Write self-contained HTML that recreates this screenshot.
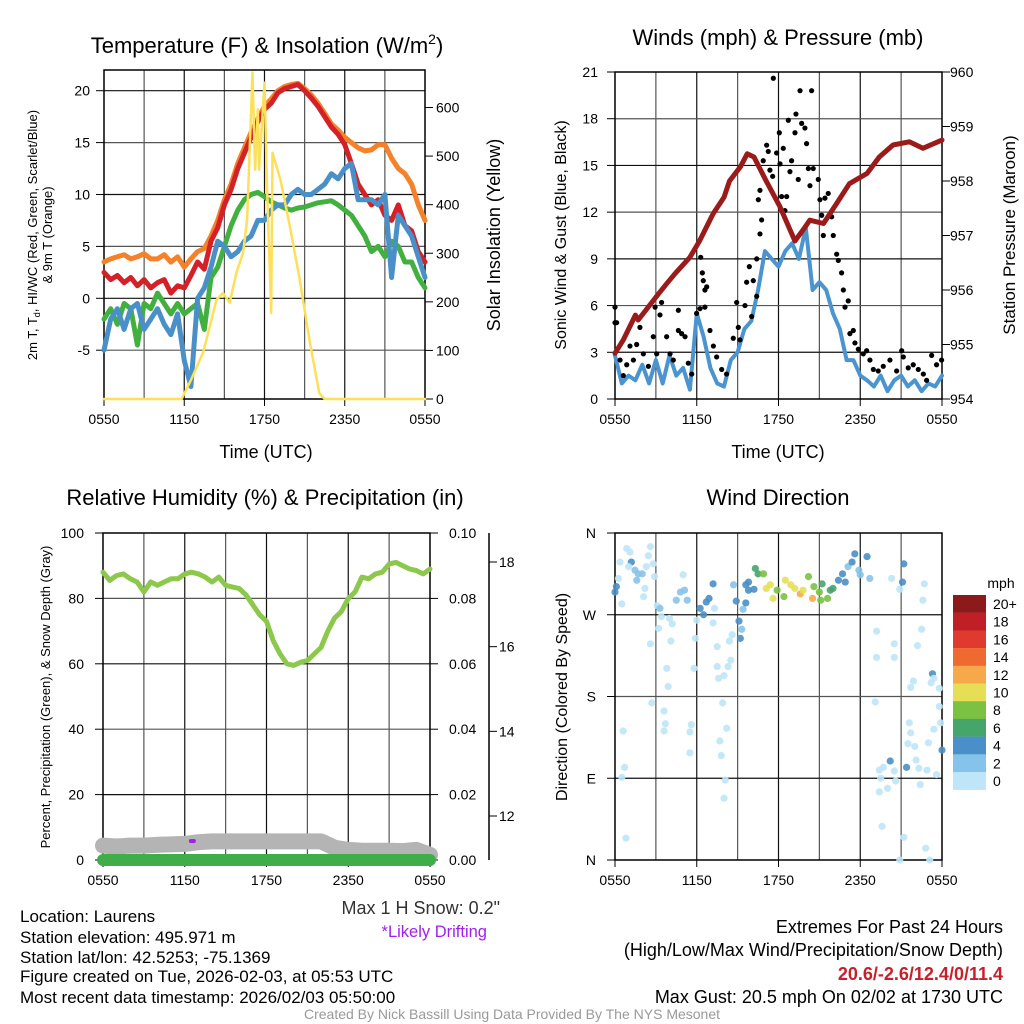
<!DOCTYPE html>
<html><head><meta charset="utf-8"><style>
html,body{margin:0;padding:0;background:#fff;}
svg{display:block;font-family:"Liberation Sans",sans-serif;}
</style></head><body>
<svg id="fig" xmlns="http://www.w3.org/2000/svg" width="1024" height="1024" viewBox="0 0 1024 1024">
<rect width="1024" height="1024" fill="#fff"/>
<g font-size="17" fill="#000">
<text x="20" y="922">Location: Laurens</text>
<text x="20" y="943">Station elevation: 495.971 m</text>
<text x="20" y="963">Station lat/lon: 42.5253; -75.1369</text>
<text x="20" y="982">Figure created on Tue, 2026-02-03, at 05:53 UTC</text>
<text x="20" y="1003">Most recent data timestamp: 2026/02/03 05:50:00</text>
<text x="500" y="914" text-anchor="end" fill="#333" font-size="18">Max 1 H Snow: 0.2"</text>
<text x="487" y="937" text-anchor="end" fill="#a020f0" font-size="16.5">*Likely Drifting</text>
<g font-size="18">
<text x="1003" y="933" text-anchor="end">Extremes For Past 24 Hours</text>
<text x="1003" y="956" text-anchor="end">(High/Low/Max Wind/Precipitation/Snow Depth)</text>
<text x="1003" y="980" text-anchor="end" fill="#c8202a" font-weight="bold">20.6/-2.6/12.4/0/11.4</text>
<text x="1003" y="1003" text-anchor="end">Max Gust: 20.5 mph On 02/02 at 1730 UTC</text>
</g>
<text x="512" y="1019" text-anchor="middle" font-size="14" fill="#999">Created By Nick Bassill Using Data Provided By The NYS Mesonet</text>
</g>
<g font-size="22">
<text x="267" y="53" text-anchor="middle">Temperature (F) &amp; Insolation (W/m<tspan font-size="14" dy="-9">2</tspan><tspan dy="9">)</tspan></text>
<text x="778" y="45" text-anchor="middle">Winds (mph) &amp; Pressure (mb)</text>
<text x="265" y="505" text-anchor="middle">Relative Humidity (%) &amp; Precipitation (in)</text>
<text x="778" y="505" text-anchor="middle">Wind Direction</text>
</g>
<g font-size="18">
<text x="266" y="458" text-anchor="middle">Time (UTC)</text>
<text x="778" y="458" text-anchor="middle">Time (UTC)</text>
<text transform="translate(500,235) rotate(-90)" text-anchor="middle">Solar Insolation (Yellow)</text>
<text transform="translate(1015,235) rotate(-90)" text-anchor="middle" font-size="17">Station Pressure (Maroon)</text>
</g>
<text transform="translate(37,235) rotate(-90)" text-anchor="middle" font-size="13">2m T, T<tspan font-size="9" dy="3">d</tspan><tspan dy="-3">, HI/WC (Red, Green, Scarlet/Blue)</tspan></text>
<text transform="translate(52,235) rotate(-90)" text-anchor="middle" font-size="13">&amp; 9m T (Orange)</text>
<text transform="translate(566,235) rotate(-90)" text-anchor="middle" font-size="16">Sonic Wind &amp; Gust (Blue, Black)</text>
<text transform="translate(50,697) rotate(-90)" text-anchor="middle" font-size="13">Percent, Precipitation (Green), &amp; Snow Depth (Gray)</text>
<text transform="translate(567,697) rotate(-90)" text-anchor="middle" font-size="16">Direction (Colored By Speed)</text>
<text x="1001" y="588" text-anchor="middle" font-size="14">mph</text>
</svg>
<script>
// ---------- data ----------
const timeLabels = ["0550","1150","1750","2350","0550"];
const halfHours = [];
for (let i = 0; i <= 48; i++) halfHours.push(i / 2);
const tempRed = [2.5,1.8,2.2,1.5,2.0,1.2,1.8,1.0,1.5,1.8,0.5,1.2,1.0,2.2,3.5,2.8,5.5,6.8,9.0,10.5,12.5,14.0,15.5,17.0,18.2,18.8,19.8,20.2,20.4,20.6,20.0,19.3,18.5,17.5,16.5,15.8,14.8,13.0,11.0,10.0,9.0,9.5,8.0,7.5,9.0,7.0,6.5,4.5,3.5];
const tempOrange = [3.5,3.8,4.0,4.2,3.8,4.0,4.3,3.8,3.8,4.2,3.5,4.0,3.0,3.8,4.5,4.8,6.0,7.5,9.5,11.0,13.0,14.5,16.0,17.3,18.5,19.2,20.0,20.4,20.6,20.7,20.2,19.6,18.8,17.8,16.8,16.2,15.5,15.0,14.5,14.2,14.3,14.8,14.8,13.5,12.5,12.0,11.0,9.0,7.5];
const windChill = [-2,-1,-2.5,-0.5,-1,-4.5,-0.5,-1,0.5,-0.5,-1.5,-0.5,-1.5,-1,-0.5,-3,2,3,5,7,8.5,9.5,10,10.2,9.8,9.3,9.0,8.7,8.5,8.7,8.8,9.0,9.2,9.3,9.4,9.0,8.5,8.0,7.0,6.0,4.5,5.0,4.0,5.5,5.0,3.5,3.5,2.0,1.0];
const dewPoint = [-5,-2,-1,-3,-1,-0.5,-3,-2,-1,-2.5,-3.5,-1.5,-6,-8.5,0,1,3,5.5,5,4,4.5,5.5,6,7.5,7.5,8.5,9,9,10,10.5,10,10,10.5,11,12,11.5,12.5,13,9.5,9.5,9.5,9,10,2,8,7,6,4,2];
const insolHours = [0,5.8,6.5,7.4,7.9,8.4,8.9,9.4,9.9,10.4,10.7,11.1,11.3,11.5,11.6,12.0,12.2,12.5,12.6,13.2,13.9,14.6,15.4,16.1,16.5,24];
const insolVals = [0,0,39,95,148,204,218,198,260,301,369,672,472,596,472,651,425,177,507,451,355,251,115,12,0,0];
const tempTicks = [-5,0,5,10,15,20];
const insolTicks = [0,100,200,300,400,500,600];

const windSpeed = [2.8,1.0,1.5,1.2,2.2,1.0,2.5,1.0,2.8,1.5,2.0,0.6,5.5,4.0,2.0,1.0,0.8,2.5,3.0,4.5,5.0,7.0,9.5,9.0,8.5,9.5,10.0,9.0,11.0,7.0,7.5,7.0,5.5,4.5,2.5,2.5,1.5,1.2,0.8,1.5,0.5,1.2,1.5,0.8,1.2,0.5,1.0,0.8,1.5];
const gustHours = [0,0,0.12,0.37,0.61,0.86,1.1,1.35,1.59,1.83,2.08,2.45,2.81,3.06,2.94,3.3,3.42,3.79,4.04,4.28,4.65,4.65,4.89,5.14,5.38,5.63,5.99,6.24,6.29,6.41,6.48,6.6,6.73,6.6,6.97,7.22,7.46,7.83,8.19,8.68,8.93,9.05,9.17,9.54,9.66,9.86,10.15,10.4,10.03,10.4,10.64,10.76,10.52,10.64,10.88,11.13,11.25,11.37,11.57,11.62,11.86,12.06,12.11,12.23,12.35,12.47,12.6,12.72,12.84,12.96,13.21,13.28,13.45,13.58,13.7,13.94,14.06,14.19,14.31,14.43,14.55,14.92,15.04,15.17,15.29,15.41,15.65,15.9,16.02,16.27,16.39,16.63,16.76,16.88,17.12,17.24,17.49,17.61,17.86,18.22,18.47,18.71,18.96,19.32,19.69,20.18,20.67,21.04,21.16,21.52,21.89,22.26,22.63,22.87,23.24,23.6,23.97];
const gustVals = [5.9,4.9,4.9,2.5,1.5,2.2,3.4,2.5,3.5,4.6,2.9,2.1,4.0,2.9,5.9,5.4,6.2,4.0,2.9,2.5,5.7,4.4,4.2,4.0,2.3,1.6,5.5,5.8,9.1,8.1,7.6,7.0,7.2,5.9,4.4,3.4,2.7,1.9,1.6,3.9,6.2,4.6,3.8,6.0,7.5,8.5,7.6,6.6,5.3,9.0,10.6,11.5,12.8,13.4,15.3,16.3,15.9,14.7,14.3,20.6,15.8,17.1,15.1,13.0,16.1,12.1,13.0,17.9,14.6,15.3,17.1,18.3,14.1,19.8,17.7,17.4,16.4,14.8,13.7,19.8,14.8,14.1,12.8,11.8,10.5,12.9,13.2,11.7,10.5,9.3,8.9,8.1,7.0,5.9,6.3,4.2,4.4,3.6,3.2,2.9,3.1,2.5,1.9,1.8,2.1,2.5,1.8,3.1,2.7,2.0,2.2,1.9,1.6,1.2,2.8,2.2,2.5];
const pressHours = [0,0.6,1.5,1.7,3.1,3.8,4.4,5.5,6.2,7.2,8.0,8.4,9.2,9.7,10.2,11.1,12.1,13.2,13.8,14.3,15.3,16.3,17.2,18.5,19.4,20.4,21.6,22.6,24];
const pressVals = [954.84,955.08,955.54,955.45,955.9,956.12,956.3,956.6,956.9,957.4,957.7,958.0,958.26,958.5,958.44,958.0,957.53,956.9,957.1,957.28,957.22,957.6,957.95,958.14,958.44,958.66,958.72,958.6,958.75];
const windTicks = [0,3,6,9,12,15,18,21];
const pressTicks = [954,955,956,957,958,959,960];

const rhVals = [88,85.5,87,87.5,86,85,82,85,84,85,86,86,87.5,88,87.5,86.5,85,86.5,84,83.5,83,81,78,75,73,67,63,60,59.5,60.5,61,63,65,70,74,76,80,82,86.5,86,87.5,88,90.5,91,90,89,88.5,87.5,89];
const snowHours = [0,1,2,3,4,5,6,7,8,9,10,11,12,13,14,15,16,17,18,19,20,21,22,23,24];
const snowDepth = [11.3,11.28,11.3,11.3,11.32,11.33,11.34,11.38,11.4,11.4,11.4,11.4,11.4,11.4,11.4,11.4,11.4,11.25,11.2,11.18,11.18,11.18,11.17,11.2,11.08];
const precipVals = [0,0,0,0,0,0,0,0,0,0,0,0,0,0,0,0,0,0,0,0,0,0,0,0,0];
const rhTicks = [0,20,40,60,80,100];
const precipTicks = ["0.00","0.02","0.04","0.06","0.08","0.10"];
const snowTicks = [12,14,16,18];

const dirHours = [0,0.1,0.37,0.86,1.1,1.2,1.0,1.47,1.7,1.6,2.0,2.3,2.6,2.45,2.8,2.9,2.2,2.1,0.5,0.25,3.1,3.3,3.4,4.0,4.2,3.2,2.6,4.1,3.8,3.9,2.7,3.6,3.7,3.6,0.6,0.7,0.5,0.8,4.5,4.8,5.1,5.0,5.3,6.25,6.5,6.7,6.9,7.3,7.2,7.2,6.0,5.9,5.8,5.6,5.5,5.5,7.5,7.5,7.6,8.0,8.3,8.5,8.4,8.6,7.9,8.2,7.7,7.8,8.1,8.0,8.7,8.9,9.1,9.3,9.2,9.4,9.6,9.6,9.8,9.8,10.2,10.3,10.5,10.9,11.1,11.4,11.6,11.9,12.4,12.5,12.9,13.2,13.6,13.8,14.2,14.5,14.6,15.0,15.2,15.1,15.6,15.8,16.0,16.4,16.7,16.9,17.1,17.4,17.6,17.9,18.0,18.5,18.7,20.3,21.1,21.2,20.9,22.7,22.6,22.5,22.2,19.2,20.5,19.2,20.5,23.3,23.4,23.2,21.9,21.7,23.8,19.1,23.8,21.6,21.7,23.4,23.0,23.9,21.5,22.0,24.0,20.2,21.4,22.1,22.3,22.9,23.6,19.4,19.7,20.5,20.6,19.5,20.0,19.4,22.4,19.6,21.2,22.8,20.9,23.1];
const dirDegrees = [295,301,328,343,339,328,323,319,315,308,315,323,345,335,326,312,299,290,282,310,280,277,268,266,260,255,238,241,211,191,173,164,150,142,142,102,91,24,286,295,297,314,286,277,270,284,288,277,304,261,264,244,211,149,141,118,235,213,200,203,213,220,241,248,173,145,131,115,88,68,303,285,263,254,244,276,283,303,306,297,298,321,315,315,299,303,288,297,290,308,303,299,293,297,312,288,301,295,304,286,288,297,299,308,315,306,323,328,337,319,314,334,310,310,306,326,298,304,286,254,236,252,238,223,223,205,200,195,197,190,189,174,169,151,140,144,129,151,128,125,121,109,102,110,101,99,94,99,102,98,87,90,79,75,83,37,25,13,0,0];
const dirSpeed = [5,5,1,1,1,5,1,3,3,3,3,1,1,1,1,1,1,1,1,1,1,3,1,1,1,1,1,1,1,1,1,1,1,1,1,1,1,1,3,3,3,1,3,5,5,5,5,1,5,1,1,1,1,1,1,1,1,1,1,1,1,1,1,1,1,1,1,1,1,1,3,5,5,3,5,3,5,5,5,5,5,7,7,9,11,11,11,9,9,11,11,11,13,11,9,13,9,9,7,9,9,7,7,5,5,5,3,5,5,3,3,5,3,1,5,5,1,1,1,1,1,1,1,1,1,5,1,1,1,1,1,1,1,1,1,1,1,1,1,1,5,5,5,1,1,1,1,1,1,1,1,1,1,1,1,1,1,1,1,1];
const dirTickLabels = ["N","E","S","W","N"];
const dirTicks = [0,90,180,270,360];
const speedBins = [0,2,4,6,8,10,12,14,16,18,20];
const speedBinLabels = ["0","2","4","6","8","10","12","14","16","18","20+"];
const speedColors = ["#bfe6f8","#86c3ea","#4a8fc7","#45a56a","#7cc142","#e6df55","#f7a84a","#ee6a30","#de3a2e","#c11f27","#8c1a1a"];

// ---------- helpers ----------
const NS = "http://www.w3.org/2000/svg";
const svg = document.getElementById("fig");
function mk(tag, parent) { const e = document.createElementNS(NS, tag); (parent || svg).appendChild(e); return e; }
function lin(d0, d1, r0, r1) { return v => r0 + (v - d0) * (r1 - r0) / (d1 - d0); }
function pathFrom(xs, ys, fx, fy) { return xs.map((x, i) => (i ? "L" : "M") + fx(x).toFixed(1) + "," + fy(ys[i]).toFixed(1)).join(""); }
function speedColor(s) { let k = 0; for (let i = 0; i < speedBins.length; i++) if (s >= speedBins[i]) k = i; return speedColors[k]; }

function frame(name, x0, x1, y0, y1, fx, fy, yTicks, yFmt, leftX) {
  const g = mk("g");
  
  
  for (let h = 3; h < 24; h += 3) {
    const l = mk("line", g);
    
    
    l.setAttribute("x1", fx(h)); l.setAttribute("x2", fx(h)); l.setAttribute("y1", y0); l.setAttribute("y2", y1);
    l.setAttribute("stroke", h % 6 === 0 ? "#111" : "#555"); l.setAttribute("stroke-width", "1.2");
  }
  yTicks.forEach((t, i) => {
    const y = fy(t);
    if (y > y0 + 1 && y < y1 - 1) {
      const l = mk("line", g);
      
      
      l.setAttribute("x1", x0); l.setAttribute("x2", x1); l.setAttribute("y1", y); l.setAttribute("y2", y);
      l.setAttribute("stroke", i % 2 ? "#111" : "#555"); l.setAttribute("stroke-width", "1.2");
    }
    const tk = mk("line", g);
    
    
    tk.setAttribute("x1", x0 - 8); tk.setAttribute("x2", x0); tk.setAttribute("y1", y); tk.setAttribute("y2", y);
    tk.setAttribute("stroke", "#000");
    const tx = mk("text", g);
    
    
    tx.setAttribute("x", leftX); tx.setAttribute("y", y + 5); tx.setAttribute("text-anchor", "end"); tx.setAttribute("font-size", "14");
    tx.textContent = yFmt(t);
  });
  timeLabels.forEach((lab, i) => {
    const x = fx(i * 6);
    const tk = mk("line", g);
    
    
    tk.setAttribute("x1", x); tk.setAttribute("x2", x); tk.setAttribute("y1", y1); tk.setAttribute("y2", y1 + 7);
    tk.setAttribute("stroke", "#000");
    const tx = mk("text", g);
    
    
    tx.setAttribute("x", x); tx.setAttribute("y", y1 + 25); tx.setAttribute("text-anchor", "middle"); tx.setAttribute("font-size", "14");
    tx.textContent = lab;
  });
  const r = mk("rect", g);
  
  
  r.setAttribute("x", x0); r.setAttribute("y", y0); r.setAttribute("width", x1 - x0); r.setAttribute("height", y1 - y0);
  r.setAttribute("fill", "none"); r.setAttribute("stroke", "#000"); r.setAttribute("stroke-width", "1.5");
  return g;
}
function rightAxis(name, x, ticks, fy, fmt, lx) {
  ticks.forEach(t => {
    const y = fy(t);
    const tk = mk("line");
    
    
    tk.setAttribute("x1", x); tk.setAttribute("x2", x + 8); tk.setAttribute("y1", y); tk.setAttribute("y2", y);
    tk.setAttribute("stroke", "#000");
    const tx = mk("text");
    
    
    tx.setAttribute("x", lx); tx.setAttribute("y", y + 5); tx.setAttribute("font-size", "14");
    tx.textContent = fmt(t);
  });
}
function line(name, xs, ys, fx, fy, color, w) {
  const p = mk("path");
  
  
  p.setAttribute("d", pathFrom(xs, ys, fx, fy));
  p.setAttribute("fill", "none"); p.setAttribute("stroke", color); p.setAttribute("stroke-width", w);
  p.setAttribute("stroke-linejoin", "round"); p.setAttribute("stroke-linecap", "round");
  return p;
}

// ---------- panel 1 ----------
{
  const fx = lin(0, 24, 104, 425), fy = lin(0, 20, 298.3, 90.7), fi = lin(0, 600, 399, 107.5);
  frame("temp", 104, 425, 70, 399, fx, fy, tempTicks, v => String(v), 90);
  rightAxis("insolation-axis", 425, insolTicks, fi, v => String(v), 436);
  line("temp-9m-orange-line", halfHours, tempOrange, fx, fy, "#f5812a", 5);
  line("temp-2m-red-line", halfHours, tempRed, fx, fy, "#d42027", 5);
  line("windchill-green-line", halfHours, windChill, fx, fy, "#42b03f", 5);
  line("dewpoint-blue-line", halfHours, dewPoint, fx, fy, "#4a90c8", 5);
  line("insolation-yellow-line", insolHours, insolVals, fx, fi, "#fde05a", 2.5);
}
// ---------- panel 2 ----------
{
  const fx = lin(0, 24, 615, 942), fy = lin(0, 21, 399, 72), fp = lin(954, 960, 399, 72);
  frame("wind", 615, 942, 72, 399, fx, fy, windTicks, v => String(v), 598);
  rightAxis("pressure-axis", 942, pressTicks, fp, v => String(v), 950);
  line("sonic-wind-line", halfHours, windSpeed, fx, fy, "#4a94d0", 4);
  gustHours.forEach((h, i) => {
    const c = mk("circle");
    
    
    c.setAttribute("cx", fx(h)); c.setAttribute("cy", fy(gustVals[i])); c.setAttribute("r", 2.6); c.setAttribute("fill", "#000");
  });
  line("pressure-maroon-line", pressHours, pressVals, fx, fp, "#9b1a1a", 5);
}
// ---------- panel 3 ----------
{
  const fx = lin(0, 24, 103, 430), fy = lin(0, 100, 860, 533), fs = lin(12, 18, 816, 562);
  frame("rh", 103, 430, 533, 860, fx, fy, rhTicks, v => String(v), 84);
  rightAxis("precip-axis", 430, rhTicks, fy, v => precipTicks[rhTicks.indexOf(v)], 449);
  const ax = mk("line");
  
  
  ax.setAttribute("x1", 489); ax.setAttribute("x2", 489); ax.setAttribute("y1", 533); ax.setAttribute("y2", 860); ax.setAttribute("stroke", "#000"); ax.setAttribute("stroke-width", "1.5");
  rightAxis("snow-axis", 489, snowTicks, fs, v => String(v), 499);
  line("snow-depth-gray-line", snowHours, snowDepth, fx, fs, "#b4b4b4", 16);
  line("precip-green-line", snowHours, precipVals, fx, fy, "#3fae49", 12);
  line("rh-green-line", halfHours, rhVals, fx, fy, "#8cc84b", 5);
  const m = mk("rect");
  
  
  m.setAttribute("x", fx(6.3)); m.setAttribute("y", fs(11.41) - 2); m.setAttribute("width", 7); m.setAttribute("height", 4); m.setAttribute("rx", 2); m.setAttribute("fill", "#a020f0");
}
// ---------- panel 4 ----------
{
  const fx = lin(0, 24, 615, 942), fy = lin(0, 360, 860, 533);
  frame("direction", 615, 942, 533, 860, fx, fy, dirTicks, v => dirTickLabels[dirTicks.indexOf(v)], 596);
  dirHours.forEach((h, i) => {
    const c = mk("circle");
    
    
    c.setAttribute("cx", fx(h)); c.setAttribute("cy", fy(dirDegrees[i])); c.setAttribute("r", 3.6);
    c.setAttribute("fill", speedColor(dirSpeed[i])); c.setAttribute("opacity", "0.9");
  });
  const cb = mk("g");
  
  
  speedColors.slice().reverse().forEach((col, j) => {
    const r = mk("rect", cb);
    
    
    r.setAttribute("x", 953); r.setAttribute("y", 595 + j * 17.7); r.setAttribute("width", 33); r.setAttribute("height", 17.9); r.setAttribute("fill", col);
    const t = mk("text", cb);
    
    
    t.setAttribute("x", 993); t.setAttribute("y", 609 + j * 17.7); t.setAttribute("font-size", "14");
    t.textContent = speedBinLabels[speedBinLabels.length - 1 - j];
  });
}
</script>
</body></html>
